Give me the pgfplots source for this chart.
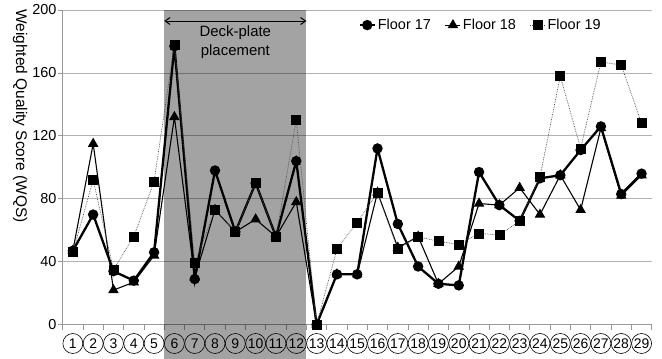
\documentclass[border=0pt]{standalone}
\usepackage{pgfplots}
\pgfplotsset{compat=1.18}
\usepackage{pgfplotstable}
\usetikzlibrary{arrows.meta}
\usepackage{fontspec}
\setmainfont{Liberation Sans}
\pgfplotstableread{
x f17 f18 f19
1 47 47 46
2 70 115 92
3 34 22 35
4 28 27 56
5 46 44 91
6 177 132 178
7 29 30 39
8 98 73 73
9 59 59 59
10 90 67 90
11 56 56 56
12 104 78 130
13 0 0 0
14 32 32 48
15 32 32 65
16 112 84 84
17 64 49 48
18 37 56 56
19 26 26 53
20 25 37 51
21 97 77 58
22 76 76 57
23 66 87 66
24 93 70 94
25 95 95 158
26 111 73 112
27 126 125 167
28 83 82 165
29 96 95 128
}\data
\begin{document}
\begin{tikzpicture}
\begin{axis}[name=ax, scale only axis, width=589bp, height=314.7bp,
  xmin=0.5, xmax=29.5, ymin=0, ymax=200, clip=false,
  axis x line=bottom, axis y line=left,
  axis line style={-, draw=black!40, line width=0.8pt},
  tick align=outside,
  xtick={1,...,29},
  minor xtick={0.5,1.5,...,29.5},
  major x tick style={draw=none},
  ytick={0,40,...,200},
  ymajorgrids, grid style={black!30, line width=0.8pt},
  tick style={black!40, line width=0.8pt},
  major tick length=5bp, minor tick length=5bp,
  /pgf/number format/assume math mode=true,
  yticklabel style={font=\fontsize{14.5}{14.5}\selectfont, inner sep=1bp},
  xticklabel style={draw=black, circle, minimum size=20bp, inner sep=0pt, line width=0.6pt, font=\fontsize{14}{14}\selectfont, yshift=-3.5bp},
  legend style={draw=none, fill=none, at={(0.497,0.952)}, anchor=west, font=\fontsize{14.5}{14.5}\selectfont, /tikz/every even column/.append style={column sep=12bp}},
  legend columns=3,
  legend image code/.code={\draw[mark repeat=2, mark phase=2] plot coordinates {(0bp,0bp) (7.5bp,0bp) (15bp,0bp)};},
]
\fill[black, fill opacity=0.36] (axis cs:5.5,-22) rectangle (axis cs:12.5,200);
\addplot[black, line width=2.3pt, mark=*, mark size=4bp] table[x=x, y=f17] {\data};
\addlegendentry{Floor 17}
\addplot[black, line width=1.1pt, mark=triangle*, mark size=5bp] table[x=x, y=f18] {\data};
\addlegendentry{Floor 18}
\addplot[black!70, line width=0.7pt, densely dotted, mark=square*, mark size=4.5bp, mark options={solid, fill=black, draw=black}] table[x=x, y=f19] {\data};
\addlegendentry{Floor 19}
\draw[{Straight Barb[length=5bp, width=7bp]}-{Straight Barb[length=5bp, width=7bp]}, line width=1pt] (axis cs:5.5,193) -- (axis cs:12.5,193);
\node[align=center, font=\fontsize{15}{19}\selectfont] at (axis cs:9,179.4) {Deck-plate\\placement};
\node[rotate=-90, font=\fontsize{15.5}{15.5}\selectfont] at ([xshift=-42.7bp]rel axis cs:0,0.663) {Weighted Quality Score (WQS)};
\end{axis}
\pgfresetboundingbox
\path ([shift={(-62.7bp,-34.3bp)}]ax.south west) rectangle ++(662bp,359bp);
\end{tikzpicture}
\end{document}
